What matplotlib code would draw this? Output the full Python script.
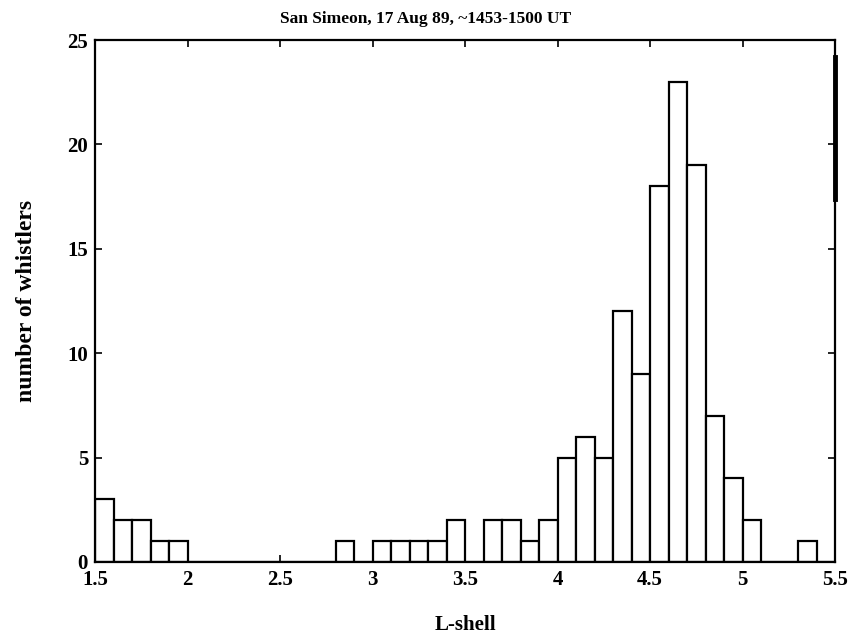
import matplotlib
matplotlib.use('Agg')
import matplotlib.pyplot as plt
import numpy as np

# bin left edges (width 0.1) and counts
bin_left = np.round(np.arange(1.5, 5.5, 0.1), 2)
counts = [3, 2, 2, 1, 1, 0, 0, 0, 0, 0,
          0, 0, 0, 1, 0, 1, 1, 1, 1, 2,
          0, 2, 2, 1, 2, 5, 6, 5, 12, 9,
          18, 23, 19, 7, 4, 2, 0, 0, 1, 0]
xticks = [1.5, 2, 2.5, 3, 3.5, 4, 4.5, 5, 5.5]
xtick_labels = ['1.5', '2', '2.5', '3', '3.5', '4', '4.5', '5', '5.5']
yticks = [0, 5, 10, 15, 20, 25]

plt.rcParams['font.family'] = ['Liberation Serif', 'DejaVu Serif']
plt.rcParams['font.weight'] = 'bold'

fig = plt.figure(figsize=(8.5, 6.35), dpi=100)
ax = fig.add_axes([0.1118, 0.115, 0.8706, 0.822])

ax.bar(bin_left, counts, width=0.1, align='edge', color='white',
       edgecolor='black', linewidth=1.6)

ax.set_xlim(1.5, 5.5)
ax.set_ylim(0, 25)
ax.set_xticks(xticks)
ax.set_xticklabels(xtick_labels)
ax.set_yticks(yticks)
ax.tick_params(direction='in', top=True, right=True, length=5, width=1.2,
               labelsize=15)
ax.tick_params(axis='x', pad=6)
ax.tick_params(axis='y', pad=5)
for s in ax.spines.values():
    s.set_linewidth(1.6)

# heavy stroke on the right border, as in the scanned original
ax.axvline(5.5, ymin=0.696, ymax=0.968, color='black', linewidth=3.5,
           clip_on=False)

# title sits centred on the figure, not on the axes
ax.set_title('San Simeon, 17 Aug 89, ~1453-1500 UT', fontsize=12.5,
             fontweight='bold', pad=12, x=0.446)
ax.set_xlabel('L-shell', fontsize=15, fontweight='bold', labelpad=18)
ax.set_ylabel('number of whistlers', fontsize=17, fontweight='bold', labelpad=22)

fig.savefig('out.png', dpi=100)
